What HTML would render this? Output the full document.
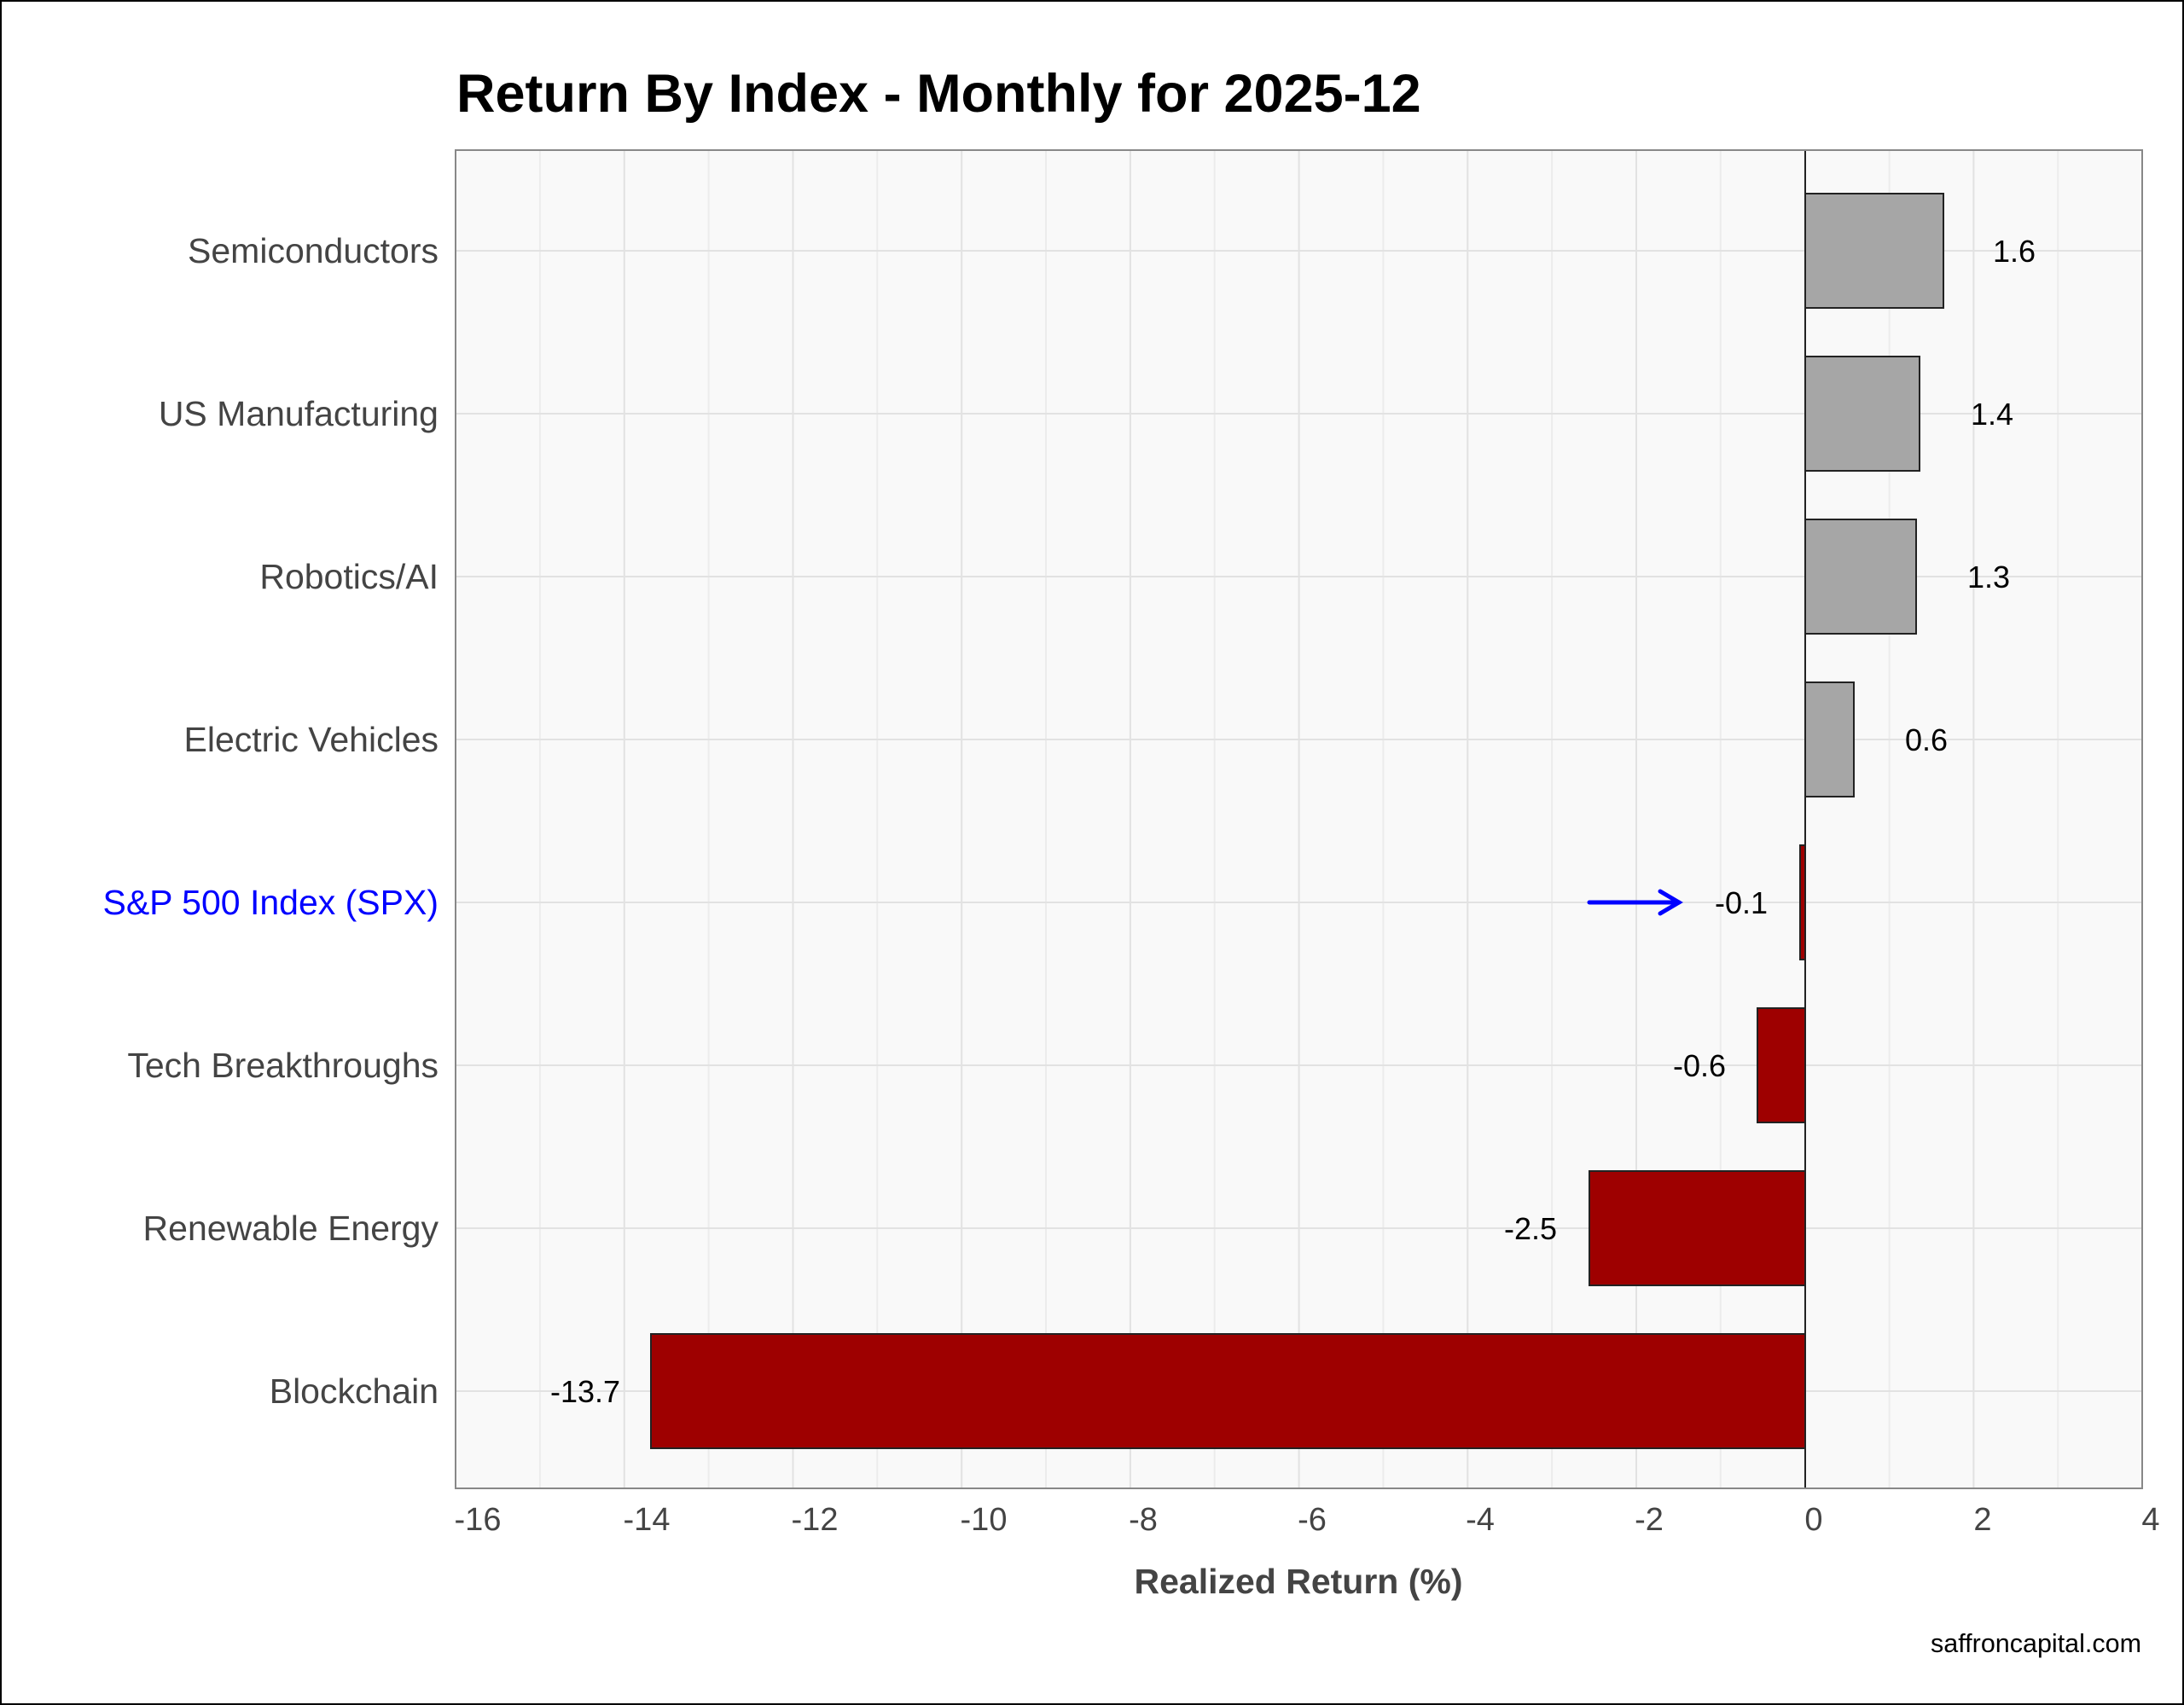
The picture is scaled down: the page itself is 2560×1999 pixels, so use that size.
<!DOCTYPE html>
<html><head><meta charset="utf-8"><style>
html,body{margin:0;padding:0;background:#fff}
svg{display:block}
text{font-family:"Liberation Sans",Arial,sans-serif}
</style></head><body>
<svg width="2560" height="1999" viewBox="0 0 2560 1999" xmlns="http://www.w3.org/2000/svg">
<rect x="1" y="1" width="2558" height="1997" fill="#fff" stroke="#000" stroke-width="2"/>
<text x="535" y="131" font-size="63" font-weight="bold" fill="#000">Return By Index - Monthly for 2025-12</text>
<rect x="534" y="176" width="1977" height="1569" fill="#f9f9f9"/>
<g stroke="#ececec" stroke-width="2">
<line x1="632.9" y1="176" x2="632.9" y2="1745"/><line x1="830.6" y1="176" x2="830.6" y2="1745"/><line x1="1028.3" y1="176" x2="1028.3" y2="1745"/><line x1="1226" y1="176" x2="1226" y2="1745"/><line x1="1423.7" y1="176" x2="1423.7" y2="1745"/><line x1="1621.4" y1="176" x2="1621.4" y2="1745"/><line x1="1819.1" y1="176" x2="1819.1" y2="1745"/><line x1="2016.8" y1="176" x2="2016.8" y2="1745"/><line x1="2214.6" y1="176" x2="2214.6" y2="1745"/><line x1="2412.3" y1="176" x2="2412.3" y2="1745"/>
</g>
<g stroke="#e2e2e2" stroke-width="2">
<line x1="731.8" y1="176" x2="731.8" y2="1745"/><line x1="929.5" y1="176" x2="929.5" y2="1745"/><line x1="1127.2" y1="176" x2="1127.2" y2="1745"/><line x1="1324.9" y1="176" x2="1324.9" y2="1745"/><line x1="1522.6" y1="176" x2="1522.6" y2="1745"/><line x1="1720.3" y1="176" x2="1720.3" y2="1745"/><line x1="1918" y1="176" x2="1918" y2="1745"/><line x1="2313.4" y1="176" x2="2313.4" y2="1745"/>
<line x1="534" y1="294" x2="2511" y2="294"/><line x1="534" y1="485" x2="2511" y2="485"/><line x1="534" y1="676" x2="2511" y2="676"/><line x1="534" y1="867" x2="2511" y2="867"/><line x1="534" y1="1058" x2="2511" y2="1058"/><line x1="534" y1="1249" x2="2511" y2="1249"/><line x1="534" y1="1440" x2="2511" y2="1440"/><line x1="534" y1="1631" x2="2511" y2="1631"/>
</g>
<g stroke="#222" stroke-width="2">
<rect x="2116" y="227" width="162" height="134" fill="#a6a6a6"/>
<rect x="2116" y="418" width="134" height="134" fill="#a6a6a6"/>
<rect x="2116" y="609" width="130" height="134" fill="#a6a6a6"/>
<rect x="2116" y="800" width="57" height="134" fill="#a6a6a6"/>
<rect x="2110" y="991" width="6" height="134" fill="#9e0000"/>
<rect x="2060" y="1182" width="56" height="134" fill="#9e0000"/>
<rect x="1863" y="1373" width="253" height="134" fill="#9e0000"/>
<rect x="763" y="1564" width="1353" height="134" fill="#9e0000"/>
</g>
<line x1="2116" y1="176" x2="2116" y2="1745" stroke="#222" stroke-width="2"/>
<rect x="534" y="176" width="1977" height="1569" fill="none" stroke="#888" stroke-width="2"/>
<g font-size="36" fill="#000" text-anchor="middle">
<text x="2361" y="307">1.6</text><text x="2335" y="498">1.4</text><text x="2331" y="689">1.3</text><text x="2258" y="880">0.6</text>
<text x="2041" y="1071">-0.1</text><text x="1992" y="1262">-0.6</text><text x="1794" y="1453">-2.5</text><text x="686" y="1644">-13.7</text>
</g>
<g stroke="#0000ff" stroke-width="5" stroke-linecap="round" fill="none">
<line x1="1863" y1="1058" x2="1968" y2="1058"/><polyline points="1946,1045 1968,1058 1946,1071"/>
</g>
<g font-size="41" fill="#444" text-anchor="end">
<text x="514" y="308">Semiconductors</text><text x="514" y="499">US Manufacturing</text><text x="514" y="690">Robotics/AI</text><text x="514" y="881">Electric Vehicles</text>
<text x="514" y="1072" fill="#0000ff">S&amp;P 500 Index (SPX)</text><text x="514" y="1263">Tech Breakthroughs</text><text x="514" y="1454">Renewable Energy</text><text x="514" y="1645">Blockchain</text>
</g>
<g font-size="38" fill="#444" text-anchor="middle">
<text x="560" y="1794">-16</text><text x="758" y="1794">-14</text><text x="955" y="1794">-12</text><text x="1153" y="1794">-10</text><text x="1340" y="1794">-8</text><text x="1538" y="1794">-6</text><text x="1735" y="1794">-4</text><text x="1933" y="1794">-2</text><text x="2126" y="1794">0</text><text x="2324" y="1794">2</text><text x="2521" y="1794">4</text>
</g>
<text x="1522" y="1868" font-size="41" font-weight="bold" fill="#444" text-anchor="middle">Realized Return (%)</text>
<text x="2510" y="1937" font-size="30.5" fill="#000" text-anchor="end">saffroncapital.com</text>
</svg>
</body></html>
